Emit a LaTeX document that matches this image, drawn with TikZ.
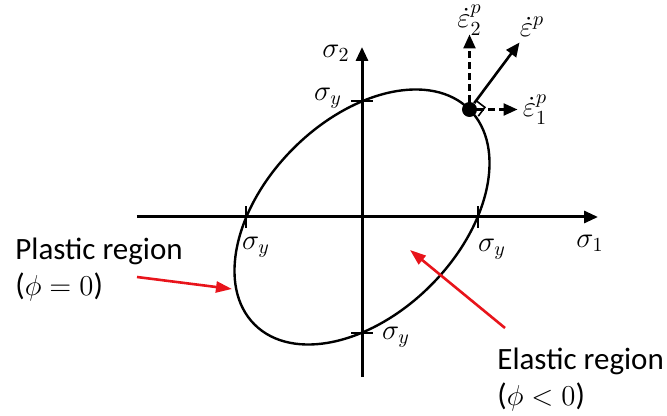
\documentclass[tikz,border=0pt]{standalone}
\usepackage{fontspec}
\setmainfont{Carlito}
\usepackage{amsmath}
\usetikzlibrary{arrows.meta,positioning,calc}
\definecolor{cRed}{HTML}{E8141B}
\tikzset{
  axis/.style={line width=1.5pt, -{Triangle[length=7pt,width=6pt]}},
  flow/.style={line width=1.2pt, dash pattern=on 3.5pt off 2pt, -{Triangle[length=7pt,width=6pt]}},
  solid flow/.style={line width=1.3pt, -{Triangle[length=7pt,width=6pt]}},
  hot/.style={line width=1.3pt, draw=cRed, -{Triangle[length=8pt,width=5.5pt]}},
  tick/.style={line width=0.6pt},
  lbl/.style={inner sep=0pt},
  txt/.style={inner sep=0pt, align=left, anchor=west, font=\fontsize{15.5pt}{18pt}\selectfont},
}
\begin{document}
\begin{tikzpicture}[x=0.5pt, y=0.5pt, font=\fontsize{14.5pt}{18pt}\selectfont]
  \useasboundingbox (-362,-199) rectangle (305,217);
  % axes
  \coordinate (o) at (0,0);
  \coordinate (xl) at (-225,0);
  \coordinate (xr) at (236,0);
  \coordinate (yb) at (0,-160);
  \coordinate (yt) at (0,170);
  \draw[axis] (xl) -- (xr);
  \draw[axis] (yb) -- (yt);
  % yield surface
  \draw[line width=1.2pt, rotate=45] (o) ellipse [x radius=76pt, y radius=48.5pt];
  % ticks
  \coordinate (tl) at (-116,0);
  \coordinate (tr) at (116,0);
  \coordinate (tt) at (0,116);
  \coordinate (tb) at (0,-116);
  \draw[tick] ($(tl)+(0,-11)$) -- ($(tl)+(0,11)$);
  \draw[tick] ($(tr)+(0,-11)$) -- ($(tr)+(0,11)$);
  \draw[tick] ($(tt)+(-11,0)$) -- ($(tt)+(11,0)$);
  \draw[tick] ($(tb)+(-11,0)$) -- ($(tb)+(11,0)$);
  \node[lbl] (syl) at (-106,-30) {$\sigma_y$};
  \node[lbl] (syr) at (130,-32) {$\sigma_y$};
  \node[lbl] (syt) at (-34,119) {$\sigma_y$};
  \node[lbl] (syb) at (34,-120) {$\sigma_y$};
  \node[lbl] (s1) at (228,-26) {$\sigma_1$};
  \node[lbl] (s2) at (-26,164) {$\sigma_2$};
  % stress point and flow directions
  \coordinate (p) at (107.5,107.5);
  \draw[line width=0.8pt, fill=white] ($(p)+(53:11)$) -- ($(p)+(53:11)+(-37:11)$) -- ($(p)+(-37:11)$);
  \node[circle, fill, inner sep=0pt, minimum size=7.5pt] (pt) at (p) {};
  \coordinate (e2) at ($(p)+(0,75)$);
  \coordinate (e1) at ($(p)+(48,0)$);
  \coordinate (ep) at ($(p)+(50,67)$);
  \draw[flow] (pt) -- (e2);
  \draw[flow] (pt) -- (e1);
  \draw[solid flow] (pt) -- (ep);
  \node[lbl, above=-0.5pt of e2] (le2) {$\dot{\varepsilon}{}^p_2$};
  \node[lbl, above right=3pt and 0pt of ep] (lep) {$\dot{\varepsilon}{}^p$};
  \node[lbl, right=2.5pt of e1] (le1) {$\dot{\varepsilon}{}^p_1$};
  % regions
  \node[txt] (plastic) at (-347,-53) {Plastic region\\($\phi = 0$)};
  \node[txt] (elastic) at (135,-163) {Elastic region\\($\phi < 0$)};
  \coordinate (pa) at (-225,-60);
  \coordinate (pb) at (-130,-72);
  \coordinate (ea) at (143,-111);
  \coordinate (eb) at (48,-33);
  \draw[hot] (pa) -- (pb);
  \draw[hot] (ea) -- (eb);
\end{tikzpicture}
\end{document}
